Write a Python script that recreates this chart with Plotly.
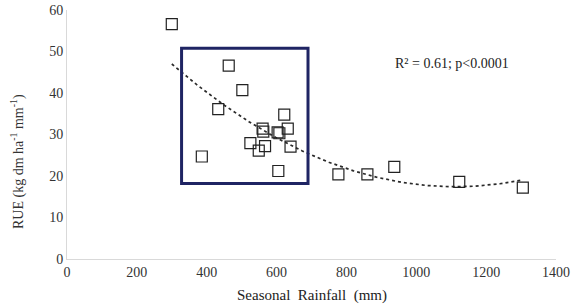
import numpy as np
import plotly.graph_objects as go

rainfall = [300, 463, 502, 433, 622, 560, 562, 632, 603, 608, 525, 567, 549, 640, 386, 605, 777, 860, 937, 1123, 1305]
rue = [56.6, 46.6, 40.7, 36.1, 34.8, 31.4, 30.7, 31.4, 30.5, 30.3, 27.9, 27.2, 26.1, 27.1, 24.7, 21.2, 20.4, 20.4, 22.2, 18.6, 17.2]
x_ticks = [0, 200, 400, 600, 800, 1000, 1200, 1400]
y_ticks = [0, 10, 20, 30, 40, 50, 60]
box_x = [328, 690]
box_y = [18.2, 50.8]

coef = np.polyfit(rainfall, rue, 2)
tx = np.linspace(min(rainfall), max(rainfall), 200)
ty = np.polyval(coef, tx)

font_family = "Liberation Serif, Times New Roman, serif"

fig = go.Figure()
fig.add_trace(go.Scatter(x=tx, y=ty, mode="lines",
                         line=dict(color="#2a2a2a", width=1.7, dash="dot"),
                         hoverinfo="skip", showlegend=False))
fig.add_trace(go.Scatter(x=rainfall, y=rue, mode="markers",
                         marker=dict(symbol="square-open", size=11, color="#222222",
                                     line=dict(width=1.2, color="#222222")),
                         showlegend=False))
fig.add_shape(type="rect", x0=box_x[0], x1=box_x[1], y0=box_y[0], y1=box_y[1],
              xref="x", yref="y", line=dict(color="#1f2463", width=3))

fig.add_annotation(xref="x", yref="y", x=1102, y=47,
                   text="R² = 0.61; p<0.0001", showarrow=False,
                   font=dict(family=font_family, size=14, color="#222222"))
fig.add_annotation(xref="paper", yref="paper", x=-0.10, y=0.39,
                   text="RUE (kg dm ha<sup>-1</sup> mm<sup>-1</sup>)", textangle=-90,
                   showarrow=False, xanchor="center", yanchor="middle",
                   font=dict(family=font_family, size=14, color="#333333"))
fig.add_annotation(xref="paper", yref="paper", x=0.5, y=-0.145,
                   text="Seasonal\u00a0 Rainfall\u00a0 (mm)",
                   showarrow=False, xanchor="center", yanchor="middle",
                   font=dict(family=font_family, size=15, color="#222222"))

fig.update_layout(
    width=587, height=308,
    margin=dict(l=67, r=31, t=10, b=49),
    paper_bgcolor="white", plot_bgcolor="white",
    font=dict(family=font_family, size=14, color="#333333"),
    xaxis=dict(range=[0, 1400], tickvals=x_ticks, showgrid=False, zeroline=False,
               showline=True, linecolor="#d9d9d9", linewidth=1, ticks="",
               automargin=False),
    yaxis=dict(range=[0, 60], tickvals=y_ticks, showgrid=False, zeroline=False,
               showline=True, linecolor="#d9d9d9", linewidth=1, ticks="",
               automargin=False),
)
fig.write_html("out.html", config={"displayModeBar": False},
               post_script="document.body.style.margin='0';")
